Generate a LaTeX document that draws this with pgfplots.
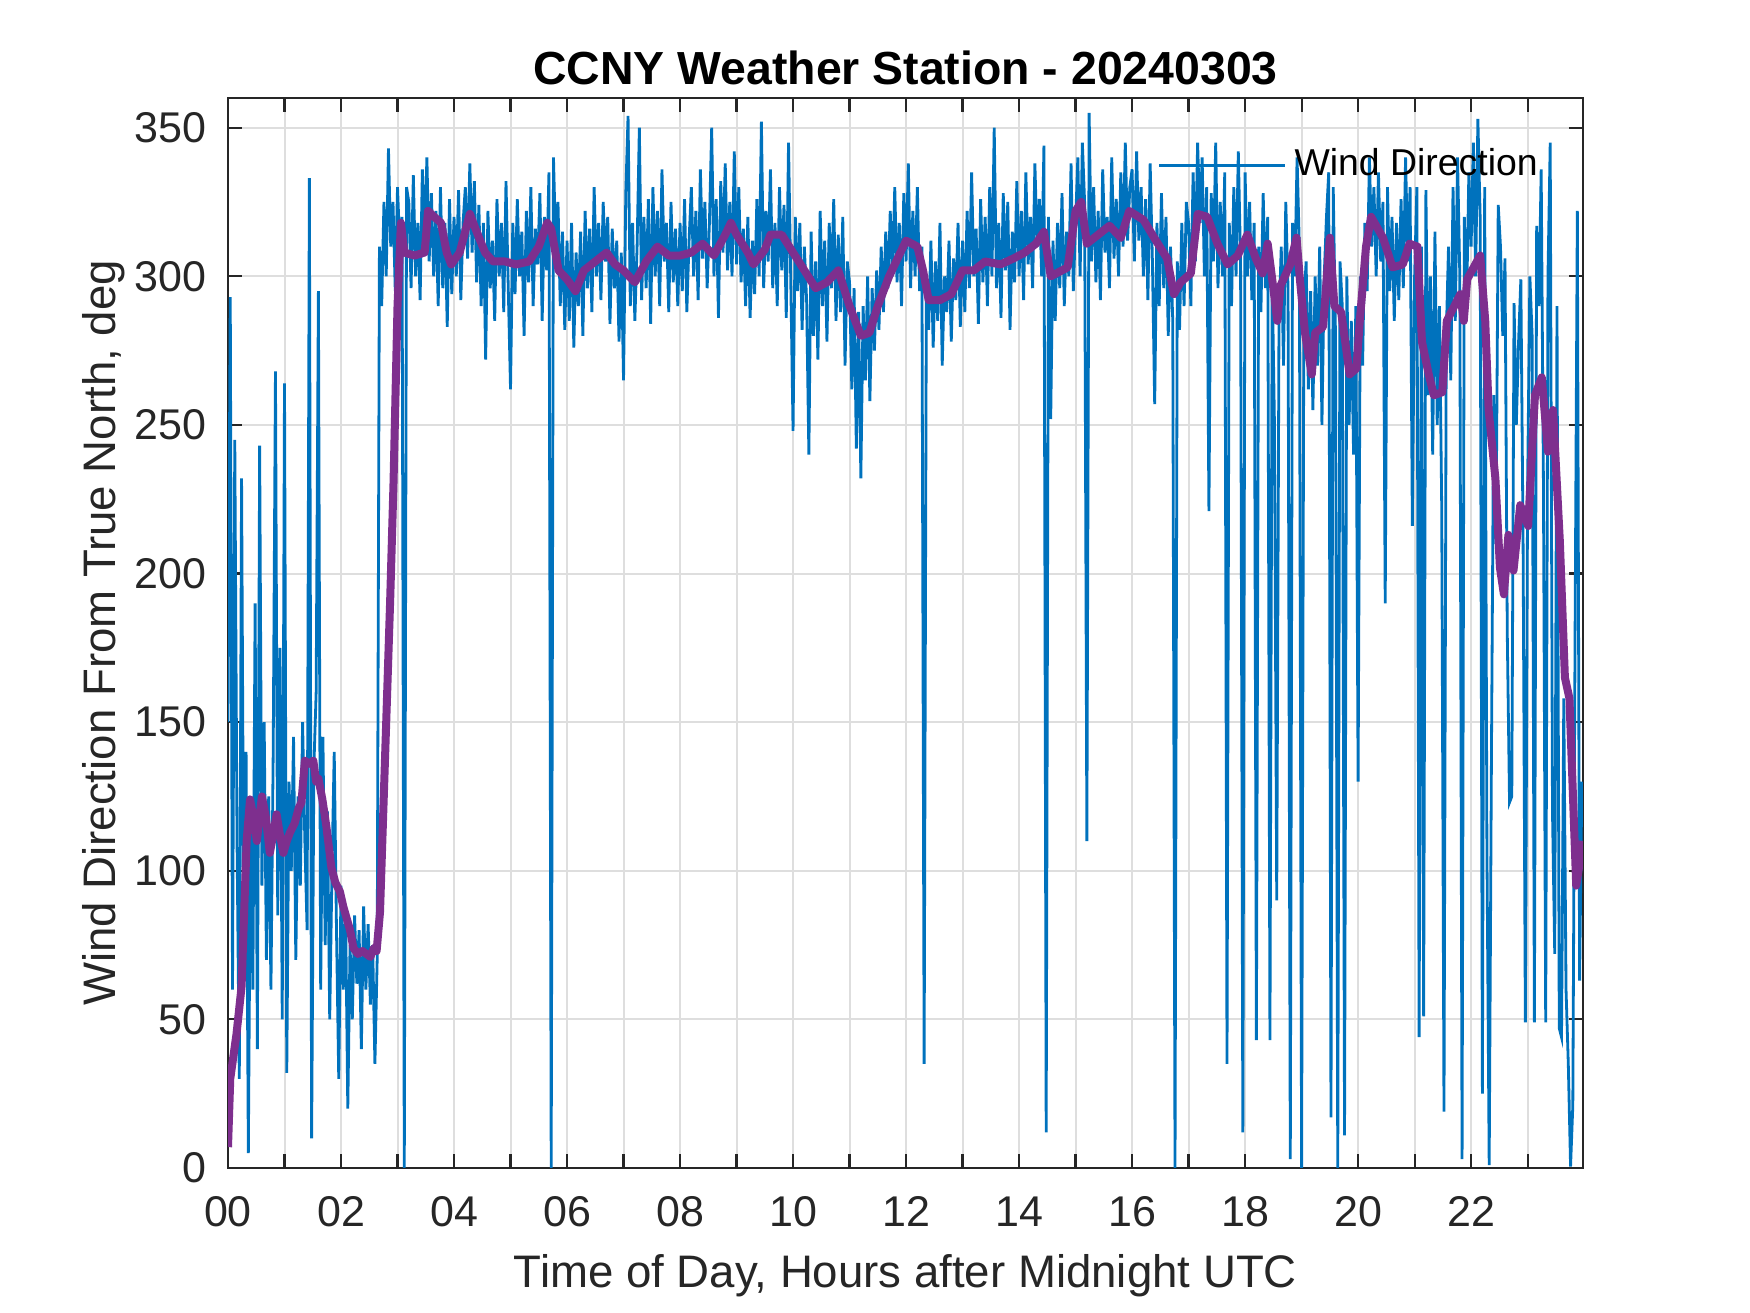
\documentclass[border=0pt]{standalone}
\usepackage{fontspec}
\setmainfont{Liberation Sans}
\usepackage{pgfplots}
\pgfplotsset{compat=1.18}
\definecolor{mblue}{RGB}{0,114,189}
\definecolor{mpurple}{RGB}{126,47,142}
\definecolor{axgray}{RGB}{38,38,38}
\definecolor{gridc}{RGB}{222,222,222}
\begin{document}
\begin{tikzpicture}
\useasboundingbox (0,0) rectangle (437.5pt,328.25pt);
\begin{axis}[
  at={(57pt,36.25pt)}, anchor=south west,
  scale only axis, width=338.75pt, height=267.5pt,
  xmin=0, xmax=23.98, ymin=0, ymax=360,
  xtick={0,1,...,23},
  xticklabels={00,,02,,04,,06,,08,,10,,12,,14,,16,,18,,20,,22,},
  ytick={0,50,...,350},
  /pgf/number format/assume math mode=true,
  grid=major, major grid style={gridc, line width=0.5pt},
  axis line style={axgray, line width=0.55pt},
  tick style={axgray, line width=0.55pt},
  tick align=inside, major tick length=3.5pt,
  tick pos=both, ticklabel pos=left,
  tick label style={font=\fontsize{10.75}{12}\selectfont, text=axgray},
  xticklabel style={yshift=-3.7pt},
  yticklabel style={xshift=-1.8pt},
  every axis title shift=0pt,
  title={CCNY Weather Station - 20240303},
  title style={font=\fontsize{11.6}{14}\selectfont\bfseries, at={(0.5,1)}, anchor=base, yshift=3.3pt},
  xlabel={Time of Day, Hours after Midnight UTC},
  ylabel={Wind Direction From True North, deg},
  label style={font=\fontsize{11.4}{14}\selectfont, text=axgray},
  xlabel style={at={(axis description cs:0.5,-0.1008)}, anchor=center},
  ylabel style={at={(axis description cs:-0.092,0.5)}, anchor=center},
  legend style={draw=none, fill=none, at={(0.6856,0.9372)}, anchor=west, inner sep=0pt,
    font=\fontsize{9.35}{11}\selectfont},
  legend image code/.code={\draw[#1] (0pt,0pt) -- (31.5pt,0pt);},
]
\addplot[mblue, line width=0.7pt] table[row sep=\\, header=false, x expr=\coordindex*0.04, y index=0]{
150\\293\\60\\245\\110\\30\\232\\80\\140\\5\\120\\60\\190\\40\\243\\95\\150\\70\\
125\\60\\140\\268\\85\\175\\50\\264\\32\\130\\100\\145\\70\\125\\95\\150\\110\\80\\333\\10\\135\\160\\295\\60\\145\\75\\120\\50\\100\\140\\80\\30\\95\\60\\88\\20\\75\\50\\85\\62\\80\\40\\88\\60\\82\\55\\75\\35\\
70\\310\\290\\325\\300\\343\\310\\325\\295\\330\\310\\320\\0\\330\\
325\\296\\334\\300\\318\\292\\336\\312\\340\\305\\328\\300\\322\\290\\330\\296\\318\\283\\326\\294\\
320\\300\\329\\292\\318\\330\\306\\338\\308\\332\\298\\324\\290\\318\\272\\322\\296\\312\\285\\326\\300\\318\\288\\332\\296\\
262\\318\\294\\326\\300\\315\\280\\322\\298\\330\\290\\316\\304\\328\\285\\320\\302\\335\\0\\340\\310\\325\\290\\315\\282\\
312\\285\\318\\276\\308\\290\\315\\280\\322\\296\\316\\288\\330\\300\\318\\292\\325\\305\\320\\284\\316\\296\\312\\278\\308\\
265\\328\\354\\290\\318\\285\\310\\350\\292\\320\\296\\326\\284\\330\\300\\322\\290\\336\\305\\318\\288\\325\\298\\316\\290\\
318\\295\\326\\288\\312\\330\\300\\322\\292\\336\\306\\325\\296\\318\\350\\300\\326\\286\\332\\308\\338\\302\\325\\300\\342\\
304\\330\\298\\316\\290\\320\\286\\312\\294\\326\\300\\352\\296\\322\\305\\336\\296\\318\\290\\330\\302\\324\\286\\345\\298\\
248\\320\\295\\318\\282\\310\\292\\240\\315\\280\\305\\272\\322\\290\\312\\278\\318\\296\\326\\285\\314\\288\\320\\270\\305\\
298\\262\\296\\242\\288\\232\\290\\265\\300\\258\\296\\275\\302\\282\\310\\288\\315\\296\\322\\300\\330\\298\\318\\290\\328\\
305\\338\\296\\322\\300\\330\\295\\310\\35\\300\\282\\312\\276\\305\\285\\318\\270\\300\\288\\312\\278\\306\\292\\318\\283\\
312\\288\\322\\296\\335\\300\\316\\284\\326\\298\\320\\290\\330\\300\\350\\296\\318\\286\\328\\302\\325\\282\\315\\298\\332\\
300\\322\\292\\335\\304\\320\\296\\338\\310\\326\\300\\344\\12\\320\\252\\312\\285\\318\\296\\328\\290\\315\\300\\338\\295\\
318\\340\\300\\345\\325\\110\\355\\305\\330\\298\\322\\292\\336\\308\\320\\296\\340\\306\\326\\300\\335\\310\\345\\312\\330\\
336\\305\\342\\312\\330\\300\\326\\292\\338\\305\\257\\318\\290\\328\\296\\320\\280\\310\\285\\0\\305\\282\\318\\290\\325\\
318\\290\\335\\305\\345\\318\\340\\300\\330\\221\\328\\305\\345\\296\\325\\300\\335\\35\\318\\290\\330\\300\\342\\305\\12\\
335\\300\\325\\292\\318\\43\\310\\288\\328\\296\\320\\43\\300\\250\\90\\285\\310\\270\\325\\296\\3\\318\\300\\340\\310\\
0\\290\\305\\262\\295\\255\\300\\270\\310\\250\\300\\320\\335\\17\\330\\280\\0\\305\\290\\11\\300\\250\\285\\240\\290\\
130\\300\\270\\318\\295\\340\\310\\330\\300\\335\\305\\325\\190\\330\\295\\320\\285\\318\\292\\326\\296\\340\\305\\330\\216\\
300\\330\\44\\310\\51\\329\\260\\300\\240\\315\\250\\290\\222\\19\\280\\310\\265\\330\\285\\340\\300\\3\\320\\290\\335\\
310\\345\\300\\353\\320\\25\\330\\107\\1\\139\\260\\210\\324\\310\\280\\306\\180\\123\\125\\291\\250\\278\\299\\210\\49\\
230\\300\\280\\49\\317\\290\\336\\230\\49\\300\\345\\120\\72\\290\\47\\44\\158\\60\\35\\0.5\\21\\180\\322\\63\\130\\
};
\addlegendentry{Wind Direction}
\addplot[mpurple, line width=2pt, line join=round, forget plot] coordinates {
(0,7) (0.04,30) (0.15,45) (0.24,61) (0.33,110) (0.39,124) (0.45,118) (0.51,110) (0.6,125) (0.67,118) (0.74,106) (0.8,112) (0.86,119) (0.92,112) (0.98,106) (1.04,110) (1.1,113) (1.18,116) (1.25,121) (1.3,123) (1.36,137) (1.44,136) (1.51,137) (1.56,130) (1.6,131) (1.67,124) (1.74,115) (1.83,101) (1.9,96) (1.98,93) (2.04,88) (2.1,84) (2.16,80) (2.22,74) (2.3,72) (2.38,73) (2.45,72) (2.52,71) (2.58,74) (2.63,73) (2.69,86) (2.8,150) (2.87,191) (2.93,231) (3.0,290) (3.06,318) (3.12,308) (3.3,307) (3.48,308) (3.54,322) (3.65,320) (3.77,318) (3.87,308) (3.95,304) (4.1,308) (4.28,321) (4.4,315) (4.55,308) (4.69,305) (4.9,305) (5.1,304) (5.33,305) (5.5,310) (5.65,318) (5.72,316) (5.85,302) (6.0,299) (6.15,295) (6.3,302) (6.5,305) (6.7,308) (6.85,304) (7.0,302) (7.2,298) (7.4,305) (7.6,310) (7.8,307) (8.0,307) (8.2,308) (8.4,311) (8.6,307) (8.8,314) (8.9,318) (9.0,314) (9.2,308) (9.3,304) (9.5,309) (9.6,314) (9.8,314) (10.0,308) (10.2,302) (10.4,296) (10.6,298) (10.8,302) (11.0,290) (11.2,280) (11.35,281) (11.5,290) (11.7,300) (11.9,308) (12.0,312) (12.2,310) (12.3,302) (12.4,292) (12.6,292) (12.8,294) (13.0,302) (13.2,302) (13.4,305) (13.67,304) (13.9,306) (14.1,308) (14.3,311) (14.44,315) (14.56,300) (14.86,303) (15.0,322) (15.1,325) (15.2,311) (15.4,314) (15.6,317) (15.8,313) (15.95,322) (16.2,319) (16.39,313) (16.62,306) (16.74,294) (16.86,298) (17.04,301) (17.16,321) (17.33,320) (17.51,311) (17.69,304) (17.87,307) (18.04,314) (18.19,306) (18.31,301) (18.4,311) (18.48,299) (18.57,285) (18.63,297) (18.8,304) (18.91,313) (18.97,299) (19.06,281) (19.18,267) (19.24,281) (19.38,283) (19.5,313) (19.58,290) (19.7,288) (19.85,267) (19.97,269) (20.03,285) (20.14,310) (20.23,320) (20.44,313) (20.61,303) (20.79,304) (20.91,311) (21.05,310) (21.13,278) (21.25,267) (21.34,260) (21.49,261) (21.57,285) (21.81,294) (21.87,285) (21.93,299) (22.16,307) (22.25,285) (22.31,255) (22.43,232) (22.51,202) (22.58,193) (22.66,213) (22.75,201) (22.87,223) (23.01,216) (23.13,260) (23.25,266) (23.36,241) (23.45,255) (23.57,211) (23.66,165) (23.74,158) (23.86,95) (23.98,110)
};
\end{axis}
\end{tikzpicture}
\end{document}
